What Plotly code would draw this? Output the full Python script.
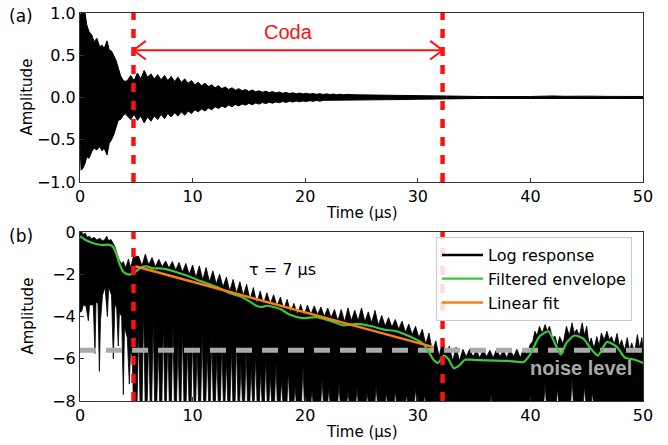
import plotly.graph_objects as go

# ======================= DATA =======================
# ---- panel (a): envelope of the dense waveform (upper / lower limits) ----
wave_t = [0.0, 0.1, 0.25, 0.45, 0.6, 0.8, 1.05, 1.25, 1.5, 1.75, 1.95, 2.15, 2.4, 2.6, 2.8, 3.0, 3.2, 3.4, 3.6, 3.8, 4.0,
          4.2, 4.5, 4.8, 5.1, 5.4, 5.7, 6.0, 6.3, 6.6, 6.9, 7.2, 7.5, 7.8, 8.1, 8.4, 8.7, 9.0, 9.3, 9.6, 9.9,
          10.2, 10.5, 10.8, 11.1, 11.4, 11.7, 12.0, 12.3, 12.6, 12.9, 13.2, 13.5, 13.8, 14.1, 14.4, 14.7,
          15.0, 15.3, 15.6, 15.9, 16.2, 16.5, 16.8, 17.1, 17.4, 17.7, 18.0, 18.3, 18.6, 18.9, 19.2, 19.5,
          19.8, 20.1, 20.4, 20.7, 21.0, 21.3, 21.6, 21.9, 22.2, 22.5, 22.8, 23.1, 23.4, 23.7,
          24.5, 26, 28, 30, 32, 33, 36, 40, 41, 42, 43, 44, 45, 47, 50]
wave_upper = [0.95, 1.0, 1.0, 1.0, 0.86, 0.78, 0.74, 0.66, 0.70, 0.60, 0.62, 0.58, 0.67, 0.56, 0.55, 0.50, 0.44, 0.35, 0.26, 0.21, 0.19,
              0.20, 0.26, 0.20, 0.29, 0.22, 0.32, 0.24, 0.28, 0.22, 0.27, 0.21, 0.26, 0.20, 0.25, 0.19, 0.24, 0.18, 0.22, 0.17, 0.20,
              0.15, 0.18, 0.14, 0.17, 0.13, 0.15, 0.115, 0.14, 0.105, 0.125, 0.095, 0.115, 0.085, 0.105, 0.08, 0.095,
              0.072, 0.088, 0.068, 0.08, 0.062, 0.075, 0.058, 0.07, 0.054, 0.065, 0.05, 0.06, 0.047, 0.056, 0.044, 0.053,
              0.042, 0.05, 0.04, 0.047, 0.038, 0.045, 0.036, 0.043, 0.035, 0.041, 0.033, 0.039, 0.032, 0.037,
              0.032, 0.03, 0.026, 0.022, 0.016, 0.012, 0.011, 0.012, 0.016, 0.018, 0.014, 0.018, 0.016, 0.013, 0.012]
wave_lower = [-0.55, -0.86, -0.84, -0.78, -0.70, -0.72, -0.64, -0.60, -0.62, -0.58, -0.63, -0.60, -0.68, -0.54, -0.50, -0.44, -0.36, -0.27, -0.26, -0.22, -0.19,
              -0.21, -0.26, -0.20, -0.27, -0.22, -0.30, -0.23, -0.28, -0.22, -0.26, -0.20, -0.25, -0.19, -0.23, -0.18, -0.22, -0.17, -0.21, -0.16, -0.19,
              -0.145, -0.17, -0.135, -0.16, -0.125, -0.145, -0.11, -0.13, -0.10, -0.12, -0.09, -0.11, -0.082, -0.10, -0.077, -0.09,
              -0.07, -0.085, -0.066, -0.078, -0.06, -0.072, -0.056, -0.067, -0.052, -0.062, -0.048, -0.058, -0.045, -0.054, -0.042, -0.051,
              -0.04, -0.048, -0.038, -0.045, -0.036, -0.043, -0.034, -0.041, -0.033, -0.039, -0.031, -0.037, -0.03, -0.035,
              -0.03, -0.028, -0.025, -0.021, -0.015, -0.012, -0.011, -0.012, -0.016, -0.018, -0.014, -0.018, -0.016, -0.013, -0.012]

# ---- panel (b): log response silhouette ----
early_top_t = [0.0, 0.15, 0.3, 0.45, 0.65, 0.85, 1.05, 1.25, 1.5, 1.75, 2.0, 2.2, 2.37, 2.55, 2.75, 2.95, 3.1, 3.3, 3.5, 3.7, 3.85, 4.05, 4.3, 4.5, 4.75]
early_top_v = [0.0, 0.0, -0.12, -0.05, -0.25, -0.2, -0.32, -0.25, -0.38, -0.3, -0.42, -0.35, -0.2, -0.42, -0.35, -0.55, -0.7, -1.05, -1.35, -1.5, -1.4, -1.7, -1.28, -1.7, -1.15]

tooth_t = [5.2, 5.8, 6.4, 7.0, 7.6, 8.2, 8.8, 9.4, 10.0, 10.6, 11.2, 11.8, 12.4, 13.0, 13.6, 14.2, 14.8, 15.4, 16.0, 16.6,
           17.2, 17.8, 18.4, 19.0, 19.6, 20.2, 20.8, 21.4, 22.0, 22.6, 23.2, 23.8, 24.4, 25.0, 25.6, 26.2, 26.8, 27.4, 28.0, 28.6,
           29.2, 29.8, 30.4, 31.0, 31.6, 32.2, 32.8, 33.4, 34.0, 34.6, 35.2, 35.8, 36.4, 37.0, 37.6, 38.2, 38.8, 39.4]
tooth_v = [-1.15, -1.05, -1.21, -1.29, -1.37, -1.40, -1.44, -1.49, -1.56, -1.60, -1.68, -1.84, -2.0, -2.13, -2.24, -2.35, -2.48, -2.63, -2.79, -2.87,
           -2.97, -3.08, -3.19, -3.38, -3.43, -3.46, -3.50, -3.55, -3.60, -3.67, -3.67, -3.59, -3.70, -3.59, -3.78, -3.71, -3.95, -4.05, -4.14, -4.22,
           -4.36, -4.46, -4.60, -4.78, -5.15, -5.10, -5.40, -5.45, -5.55, -5.55, -5.60, -5.55, -5.60, -5.55, -5.60, -5.55, -5.55, -5.50]
valley_t = [5.5, 6.1, 6.7, 7.3, 7.9, 8.5, 9.1, 9.7, 10.3, 10.9, 11.5, 12.1, 12.7, 13.3, 13.9, 14.5, 15.1, 15.7, 16.3, 16.9,
            17.5, 18.1, 18.7, 19.3, 19.9, 20.5, 21.1, 21.7, 22.3, 22.9, 23.5, 24.1, 24.7, 25.3, 25.9, 26.5, 27.1, 27.7, 28.3, 28.9,
            29.5, 30.1, 30.7, 31.3, 31.9, 32.5, 33.1, 33.7, 34.3, 34.9, 35.5, 36.1, 36.7, 37.3, 37.9, 38.5, 39.1, 39.7]
valley_v = [-1.6, -1.55, -1.65, -1.65, -1.7, -1.8, -1.9, -2.0, -2.15, -2.25, -2.35, -2.45, -2.6, -2.8, -2.9, -3.0, -3.2, -3.4, -3.4, -3.4,
            -3.5, -3.65, -3.8, -3.9, -3.95, -3.9, -3.9, -4.0, -4.05, -4.2, -4.25, -4.2, -4.2, -4.25, -4.3, -4.4, -4.45, -4.5, -4.6, -4.75,
            -4.85, -5.0, -5.3, -5.7, -5.9, -5.8, -6.1, -6.1, -5.9, -5.9, -5.95, -5.9, -5.95, -5.9, -5.95, -5.9, -5.95, -5.8]
late_top_t = [40.0, 40.2, 40.4, 40.6, 40.8, 41.05, 41.3, 41.5, 41.7, 41.95, 42.2, 42.4, 42.6, 42.9, 43.2, 43.45, 43.7, 43.9, 44.1, 44.35,
              44.6, 44.8, 45.0, 45.2, 45.4, 45.65, 45.9, 46.1, 46.3, 46.55, 46.8, 47.0, 47.2, 47.45, 47.7, 47.9, 48.1, 48.35, 48.6, 48.8,
              49.0, 49.25, 49.5, 49.7, 49.9, 50.0]
late_top_v = [-5.3, -5.2, -4.7, -4.9, -4.46, -4.8, -4.38, -4.7, -4.45, -5.0, -4.94, -5.4, -4.95, -5.3, -4.46, -4.9, -4.3, -4.8, -4.6, -4.9,
              -4.3, -4.9, -4.45, -5.3, -5.02, -5.5, -4.95, -5.4, -4.78, -5.1, -4.7, -5.1, -4.95, -5.3, -4.8, -5.4, -5.1, -5.6, -5.0, -5.6,
              -5.25, -5.7, -4.86, -5.5, -5.0, -5.6]

early_low_t = [0.0, 0.15, 0.3, 0.53, 0.74, 0.85, 1.18, 1.33, 1.42, 1.6, 1.72, 1.82, 2.0, 2.22, 2.43, 2.55, 2.8, 2.96, 3.1, 3.26,
               3.4, 3.5, 3.7, 3.85, 3.95, 4.2, 4.38, 4.5, 4.65, 4.75]
early_low_v = [-3.8, -3.75, -3.45, -3.5, -4.2, -3.45, -3.45, -5.75, -3.3, -3.4, -6.6, -4.2, -3.0, -2.6, -4.0, -2.6, -3.0, -6.0, -3.4, -3.6,
               -5.4, -3.8, -4.0, -7.7, -4.5, -5.0, -7.2, -5.5, -6.0, -8.3]

gap_t = [5.2, 5.65, 6.1, 6.5, 6.95, 7.4, 7.8, 8.25, 8.7, 9.1, 9.55, 10.0, 10.4, 10.85, 11.3, 11.7, 12.15, 12.6, 13.0, 13.45,
         13.9, 14.3, 14.75, 15.2, 15.6, 16.05, 16.5, 16.9, 17.4, 17.9, 18.5, 19.1, 19.8, 20.6, 21.5, 22.1, 23.0, 23.8, 24.6, 25.5,
         26.3, 27.2, 28.0, 29.0, 29.8, 30.6, 36.5, 41.3, 42.4, 43.7, 44.8, 45.5]
gap_top = [-4.4, -3.6, -4.9, -4.2, -5.3, -4.3, -5.0, -4.4, -5.2, -4.6, -5.4, -4.9, -5.5, -4.8, -5.6, -5.0, -5.8, -5.2, -6.0, -5.5,
           -5.1, -6.2, -5.6, -6.4, -5.8, -6.6, -6.0, -6.8, -6.2, -7.0, -6.6, -7.3, -6.3, -7.5, -7.0, -7.4, -7.2, -7.5, -7.4, -7.6,
           -7.3, -7.6, -7.5, -7.7, -7.4, -7.7, -7.7, -7.2, -7.4, -6.9, -7.3, -7.6]

# filtered envelope (green)
env_t = [0.0, 0.5, 1.0, 1.5, 2.0, 2.5, 2.9, 3.2, 3.5, 3.8, 4.1, 4.4, 4.7, 5.0, 5.4, 5.9, 6.5, 7.1, 7.6, 8.3,
         9.0, 9.8, 10.5, 11.5, 12.4, 13.3, 14.3, 14.8, 15.7, 16.1, 16.6, 17.2, 17.8, 18.6, 19.8, 21.0, 22.2, 23.4, 24.6, 25.8,
         27.0, 28.1, 29.3, 30.5, 30.95, 31.4, 31.8, 32.3, 32.7, 33.2, 33.6, 34.2, 35.0, 36.1, 38.0, 39.4, 39.97, 40.8, 41.6, 42.2,
         42.7, 43.2, 43.9, 44.7, 45.4, 46.0, 46.8, 47.7, 48.4, 49.3, 50.0]
env_v = [-0.2, -0.38, -0.5, -0.58, -0.62, -0.6, -0.68, -1.0, -1.5, -1.85, -1.98, -2.02, -1.95, -1.85, -1.68, -1.63, -1.72, -1.72, -1.76, -1.86,
         -1.98, -2.13, -2.28, -2.48, -2.66, -2.9, -3.05, -3.2, -3.5, -3.55, -3.49, -3.55, -3.65, -3.9, -4.08, -4.03, -4.2, -4.42, -4.35, -4.45,
         -4.62, -4.7, -4.95, -5.3, -5.65, -6.05, -6.2, -5.85, -6.0, -6.45, -6.35, -6.05, -6.05, -6.08, -6.1, -6.15, -5.8, -4.95, -4.7, -5.3,
         -5.8, -5.25, -4.9, -5.05, -5.55, -5.85, -5.2, -5.45, -5.95, -6.05, -6.2]

# linear fit (orange), tau = 7 us
fit_t = [4.9, 31.4]
fit_v = [-1.62, -5.45]

noise_level = -5.6
coda_start = 4.75
coda_end = 32.2

x_ticks = [0, 10, 20, 30, 40, 50]
ya_ticks = [-1.0, -0.5, 0.0, 0.5, 1.0]
ya_labels = ["\u22121.0", "\u22120.5", "0.0", "0.5", "1.0"]
yb_ticks = [-8, -6, -4, -2, 0]
yb_labels = ["\u22128", "\u22126", "\u22124", "\u22122", "0"]

assert len(wave_t) == len(wave_upper) == len(wave_lower)
assert len(tooth_t) == len(tooth_v) and len(valley_t) == len(valley_v)
assert len(late_top_t) == len(late_top_v) and len(early_top_t) == len(early_top_v)
assert len(early_low_t) == len(early_low_v) and len(gap_t) == len(gap_top)
assert len(env_t) == len(env_v)

# ======================= FIGURE =======================
W, H = 668, 445
X0, X1 = 80, 643
A_TOP, A_BOT = 13, 182
B_TOP, B_BOT = 232, 401
FONT = "DejaVu Sans"


def px_x(p):
    return p / W


def px_y(p):
    return 1 - p / H


fig = go.Figure()

# panel (a) waveform
fig.add_trace(go.Scatter(
    x=wave_t + wave_t[::-1], y=wave_upper + wave_lower[::-1],
    fill="toself", fillcolor="black", mode="lines",
    line=dict(color="black", width=1), showlegend=False, hoverinfo="skip",
    xaxis="x", yaxis="y"))

# panel (b) log response silhouette
top_pts = sorted(list(zip(early_top_t, early_top_v)) + list(zip(tooth_t, tooth_v))
                 + list(zip(valley_t, valley_v)) + list(zip(late_top_t, late_top_v)))
BASE = -8.3
GAP_HALF = 0.14
low_pts = list(zip(early_low_t, early_low_v))
for gt, gv in zip(gap_t, gap_top):
    low_pts += [(gt - GAP_HALF, BASE), (gt, gv), (gt + GAP_HALF, BASE)]
low_pts.append((50.0, BASE))
low_pts.sort()
poly_x = [p[0] for p in top_pts] + [p[0] for p in reversed(low_pts)]
poly_y = [p[1] for p in top_pts] + [p[1] for p in reversed(low_pts)]
fig.add_trace(go.Scatter(
    x=poly_x, y=poly_y, fill="toself", fillcolor="black", mode="lines",
    line=dict(color="black", width=0.8), showlegend=False, hoverinfo="skip",
    xaxis="x2", yaxis="y2"))

# noise level
fig.add_trace(go.Scatter(
    x=[0, 50], y=[noise_level, noise_level], mode="lines",
    line=dict(color="#aaaaaa", width=5, dash="16px,10px"),
    showlegend=False, hoverinfo="skip", xaxis="x2", yaxis="y2"))

# legend proxy for log response
fig.add_trace(go.Scatter(x=[None], y=[None], mode="lines", name="Log response",
                         line=dict(color="black", width=2.5), xaxis="x2", yaxis="y2"))
fig.add_trace(go.Scatter(x=env_t, y=env_v, mode="lines", name="Filtered envelope",
                         line=dict(color="#3cc83c", width=2.2, shape="spline", smoothing=0.6),
                         xaxis="x2", yaxis="y2"))
fig.add_trace(go.Scatter(x=fit_t, y=fit_v, mode="lines", name="Linear fit",
                         line=dict(color="#ff7f0e", width=2.5), xaxis="x2", yaxis="y2"))

shapes = []
for xr, yr in (("x", "y domain"), ("x2", "y2 domain")):
    for xv in (coda_start, coda_end):
        shapes.append(dict(type="line", xref=xr, yref=yr, x0=xv, x1=xv, y0=0, y1=1,
                           line=dict(color="#ff1010", width=4.5, dash="9px,9px"), layer="above"))
# coda arrow
ARROW_Y = 0.56
HEAD_L, HEAD_H = 1.1, 0.11
shapes.append(dict(type="line", xref="x", yref="y", x0=coda_start, x1=coda_end, y0=ARROW_Y, y1=ARROW_Y,
                   line=dict(color="#ff1010", width=2), layer="above"))
shapes.append(dict(type="path", xref="x", yref="y",
                   path=f"M {coda_start + HEAD_L} {ARROW_Y + HEAD_H} L {coda_start} {ARROW_Y} L {coda_start + HEAD_L} {ARROW_Y - HEAD_H}",
                   line=dict(color="#ff1010", width=2), layer="above"))
shapes.append(dict(type="path", xref="x", yref="y",
                   path=f"M {coda_end - HEAD_L} {ARROW_Y + HEAD_H} L {coda_end} {ARROW_Y} L {coda_end - HEAD_L} {ARROW_Y - HEAD_H}",
                   line=dict(color="#ff1010", width=2), layer="above"))

C = dict(xanchor="center", yanchor="middle", showarrow=False)
ann = []
ann.append(dict(text="Coda", x=(coda_start + coda_end) / 2, y=0.77, xref="x", yref="y",
                font=dict(family="Liberation Sans", size=20, color="#ff1010"), **C))
ann.append(dict(text="τ = 7 μs", x=18.0, y=-1.76, xref="x2", yref="y2",
                font=dict(family=FONT, size=16, color="black"), **C))
ann.append(dict(text="<b>noise level</b>", x=44.5, y=-6.44, xref="x2", yref="y2",
                font=dict(family="Liberation Sans", size=20, color="#a9a9a9"), **C))
for lbl, py in (("(a)", 16), ("(b)", 236)):
    ann.append(dict(text=lbl, x=px_x(21), y=px_y(py), xref="paper", yref="paper",
                    font=dict(family=FONT, size=17, color="black"), **C))
for py in (97.5, 316.5):
    ann.append(dict(text="Amplitude", x=px_x(27), y=px_y(py), xref="paper", yref="paper",
                    textangle=-90, font=dict(family=FONT, size=15, color="black"), **C))
for py in (213, 432):
    ann.append(dict(text="Time (μs)", x=px_x(361.5), y=px_y(py), xref="paper", yref="paper",
                    font=dict(family=FONT, size=15, color="black"), **C))

axis_common = dict(showline=True, mirror=True, linecolor="#333333", linewidth=1, ticks="inside",
                   ticklen=4, tickwidth=1, tickcolor="#333333", showgrid=False, zeroline=False,
                   automargin=False, ticklabeloverflow="allow",
                   tickfont=dict(family=FONT, size=16, color="black"))
xdom = [X0 / W, X1 / W]
fig.update_layout(
    template="none",
    width=W, height=H, margin=dict(l=0, r=0, t=0, b=0, pad=0), autosize=False,
    paper_bgcolor="white", plot_bgcolor="white",
    font=dict(family=FONT, size=16, color="black"),
    xaxis=dict(domain=xdom, range=[0, 50], tickvals=x_ticks, anchor="y", **axis_common),
    yaxis=dict(domain=[1 - A_BOT / H, 1 - A_TOP / H], range=[-1, 1], tickvals=ya_ticks, ticktext=ya_labels,
               anchor="x", **axis_common),
    xaxis2=dict(domain=xdom, range=[0, 50], tickvals=x_ticks, anchor="y2", **axis_common),
    yaxis2=dict(domain=[1 - B_BOT / H, 1 - B_TOP / H], range=[-8, 0], tickvals=yb_ticks, ticktext=yb_labels,
                anchor="x2", **axis_common),
    shapes=shapes, annotations=ann,
    legend=dict(x=px_x(436), y=px_y(237), xanchor="left", yanchor="top",
                bgcolor="rgba(255,255,255,0.85)", bordercolor="#cccccc", borderwidth=1,
                font=dict(family=FONT, size=16, color="black"), itemwidth=41),
    showlegend=True,
)

# remove the default page margin so the figure sits at the window's top-left corner
fig.write_html("out.html", config={"displayModeBar": False},
               post_script="document.body.style.margin='0px';")
